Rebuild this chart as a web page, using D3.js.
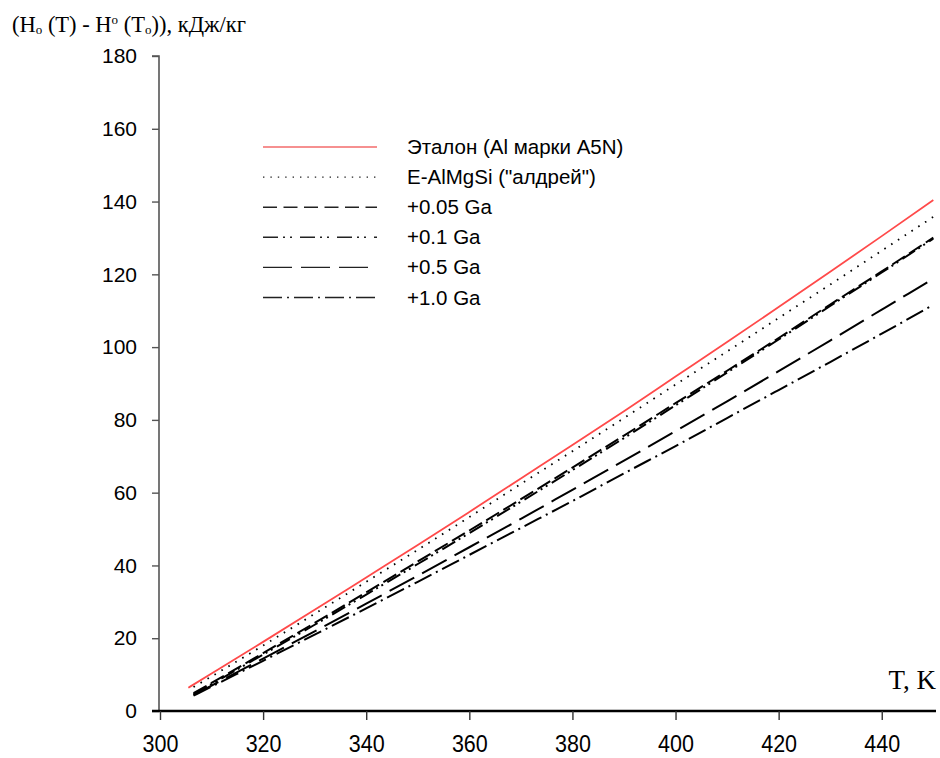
<!DOCTYPE html>
<html>
<head>
<meta charset="utf-8">
<script src="https://cdn.jsdelivr.net/npm/d3@7"></script>
<style>
  html, body { margin: 0; padding: 0; background: #fff; }
  svg { display: block; }
</style>
</head>
<body>
<svg id="chart" width="940" height="758"></svg>
<script>
// ---------------- DATA ----------------
const tempRed   = [305.5, 310, 320, 330, 340, 350, 360, 370, 380, 390, 400, 410, 420, 430, 440, 450];
const tempAlloy = [306.5, 310, 320, 330, 340, 350, 360, 370, 380, 390, 400, 410, 420, 430, 440, 450];

const seriesNames = ["Эталон (Al марки A5N)", "E-AlMgSi (\"алдрей\")", "+0.05 Ga", "+0.1 Ga", "+0.5 Ga", "+1.0 Ga"];
const valEtalon = [6.4, 10.3, 19.0, 27.8, 36.7, 45.6, 54.7, 63.9, 73.1, 82.4, 91.9, 101.4, 111.0, 120.7, 130.5, 140.4];
const valAldrey = [6.6, 9.5, 18.0, 26.7, 35.5, 44.3, 53.3, 62.4, 71.4, 80.5, 89.7, 98.8, 108.0, 117.2, 126.5, 135.8];
const valGa005  = [4.9, 7.7, 15.9, 24.2, 32.6, 41.1, 49.6, 58.2, 66.9, 75.7, 84.6, 93.5, 102.5, 111.7, 120.8, 130.1];
const valGa01   = [4.6, 7.4, 15.5, 23.7, 32.0, 40.4, 48.9, 57.5, 66.2, 75.0, 84.0, 93.0, 102.1, 111.3, 120.5, 129.8];
const valGa05   = [4.4, 7.0, 14.4, 21.9, 29.5, 37.2, 45.0, 52.8, 60.8, 68.8, 76.9, 85.1, 93.4, 101.8, 110.3, 118.8];
const valGa10   = [4.2, 6.7, 13.8, 21.0, 28.2, 35.5, 42.9, 50.3, 57.7, 65.3, 72.8, 80.5, 88.2, 95.9, 103.7, 111.6];

const xTicks = [300, 320, 340, 360, 380, 400, 420, 440];
const yTicks = [0, 20, 40, 60, 80, 100, 120, 140, 160, 180];

// ---------------- STYLES ----------------
const styles = [
  { color: "#ff4a4a", dash: null,                 width: 1.8, legendWidth: 1.6, legendDash: null },
  { color: "#000",    dash: "1.6,6.5",            width: 1.8, legendWidth: 1.4, legendDash: "1.4,6" },
  { color: "#000",    dash: "15,5",               width: 2.0, legendWidth: 1.4, legendDash: "14,6.5" },
  { color: "#000",    dash: "15,4,2,4,2,5",       width: 2.0, legendWidth: 1.4, legendDash: "15,5,2,5,2,8" },
  { color: "#000",    dash: "28,9",               width: 2.0, legendWidth: 1.4, legendDash: "29,9" },
  { color: "#000",    dash: "19,5,2,5",           width: 2.0, legendWidth: 1.4, legendDash: "19,5,2,5" }
];

const svg = d3.select("#chart");

const x = d3.scaleLinear().domain([300, 450]).range([160, 933.3]);
const y = d3.scaleLinear().domain([0, 180]).range([711, 56]);

// ---------------- AXES ----------------
// Y axis
const yAxis = svg.append("g").attr("transform", `translate(${x(300) - 1},0)`)
  .call(d3.axisLeft(y).tickValues(yTicks).tickSize(7).tickPadding(15).tickFormat(d3.format("d")));
yAxis.select(".domain").attr("stroke", "#555").attr("stroke-width", 1.6).attr("d", `M-7,${y(180)}H0V${y(0)}`);
yAxis.selectAll(".tick line").attr("stroke", "#555").attr("stroke-width", 1.4);
yAxis.selectAll(".tick text")
  .attr("fill", "#000")
  .style("font-family", "'Liberation Sans', Arial, sans-serif")
  .style("font-size", "21px");

// X axis
const xAxis = svg.append("g").attr("transform", `translate(0,${y(0)})`)
  .call(d3.axisBottom(x).tickValues(xTicks).tickSize(9).tickPadding(0).tickFormat(d3.format("d")));
xAxis.select(".domain").attr("stroke", "#000").attr("stroke-width", 2.4).attr("d", `M152,0H936`);
xAxis.selectAll(".tick line").attr("stroke", "#333").attr("stroke-width", 1.4);
xAxis.selectAll(".tick text")
  .attr("fill", "#000")
  .attr("y", 0)
  .attr("dy", null)
  .attr("transform", "translate(0,41) scale(1,1.13)")
  .style("font-family", "'Liberation Sans', Arial, sans-serif")
  .style("font-size", "21.5px");

// ---------------- CURVES ----------------
const allValues = [valEtalon, valAldrey, valGa005, valGa01, valGa05, valGa10];
const line = d3.line().x(d => x(d[0])).y(d => y(d[1])).curve(d3.curveMonotoneX);

const curvesG = svg.append("g");
// draw black curves first, red on top
[1, 2, 3, 4, 5, 0].forEach(i => {
  const temps = i === 0 ? tempRed : tempAlloy;
  const pts = temps.map((t, k) => [t, allValues[i][k]]);
  const p = curvesG.append("path")
    .attr("d", line(pts))
    .attr("fill", "none")
    .attr("stroke", styles[i].color)
    .attr("stroke-width", styles[i].width)
    .attr("stroke-linecap", "butt");
  if (styles[i].dash) p.attr("stroke-dasharray", styles[i].dash);
});

// ---------------- LEGEND ----------------
const legendX0 = 263, legendX1 = 377, legendTextX = 407, legendY0 = 147, legendStep = 30.1;
const legend = svg.append("g");
seriesNames.forEach((name, i) => {
  const yy = legendY0 + i * legendStep;
  const l = legend.append("line")
    .attr("x1", legendX0).attr("x2", legendX1)
    .attr("y1", yy).attr("y2", yy)
    .attr("stroke", i === 0 ? "#f36b6b" : "#222")
    .attr("stroke-width", styles[i].legendWidth);
  if (styles[i].legendDash) l.attr("stroke-dasharray", styles[i].legendDash);
  legend.append("text")
    .attr("x", legendTextX).attr("y", yy + 7)
    .style("font-family", "'Liberation Sans', Arial, sans-serif")
    .style("font-size", "20.5px")
    .attr("fill", "#000")
    .text(name);
});

// ---------------- TITLES ----------------
const title = svg.append("text")
  .attr("x", 12).attr("y", 32)
  .style("font-family", "'Liberation Serif', 'Times New Roman', serif")
  .style("font-size", "22.5px")
  .attr("fill", "#000");
title.append("tspan").text("(H");
title.append("tspan").attr("font-size", "13px").attr("dy", 2).text("o");
title.append("tspan").attr("dy", -2).text(" (T) - H");
title.append("tspan").attr("font-size", "13px").attr("dy", -8).text("o");
title.append("tspan").attr("dy", 8).text(" (T");
title.append("tspan").attr("font-size", "13px").attr("dy", 2).text("o");
title.append("tspan").attr("dy", -2).text(")), кДж/кг");

svg.append("text")
  .attr("x", 936).attr("y", 689)
  .attr("text-anchor", "end")
  .style("font-family", "'Liberation Serif', 'Times New Roman', serif")
  .style("font-size", "27px")
  .attr("fill", "#000")
  .text("T, K");
</script>
</body>
</html>
